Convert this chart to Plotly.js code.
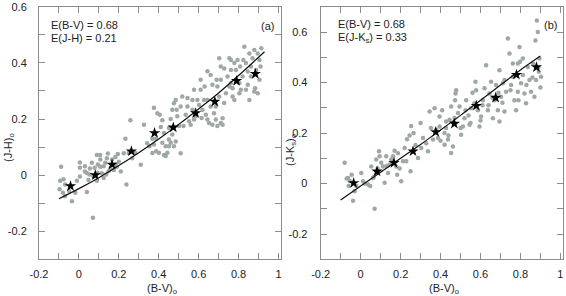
<!DOCTYPE html>
<html>
<head>
<meta charset="utf-8">
<script src="https://cdn.plot.ly/plotly-3.0.1.min.js"></script>
<style>html,body{margin:0;padding:0;background:#fff;}#chart{width:566px;height:296px;}</style>
</head>
<body>
<div id="chart"></div>
<script>
// ---- Panel (a): (B-V)o vs (J-H)o ----
const bvA = [-0.089,-0.094,-0.097,-0.08,-0.07,-0.035,-0.05,-0.018,0.005,0.005,0.03,0.04,0.055,0.048,0.073,0.09,0.095,0.09,0.107,0.107,0.115,0.124,0.14,0.145,0.157,0.175,0.183,0.195,0.2,0.19,0.21,0.07,
 0.03,0.04,0.053,0.065,0.079,0.094,0.107,0.124,0.132,0.149,0.166,0.183,0.137,-0.01,-0.069,-0.077,0.005,
 0.225,0.233,0.258,0.25,0.238,0.267,0.283,0.31,0.326,0.342,0.354,0.368,0.368,0.385,0.376,0.393,0.387,0.405,0.418,0.41,0.426,0.435,0.418,0.443,0.426,0.451,0.46,0.468,0.46,0.468,0.476,0.485,0.493,0.502,0.476,0.51,0.485,
 0.518,0.51,0.535,0.552,0.56,0.544,0.569,0.577,0.594,0.585,0.602,0.61,0.619,0.636,0.644,0.644,0.66,0.652,0.669,0.677,0.686,0.694,0.703,0.711,0.711,0.72,0.728,0.737,0.745,0.754,0.762,0.754,0.77,0.779,0.779,0.787,0.795,0.804,0.812,0.82,0.829,0.837,0.846,0.854,0.862,0.879,0.888,0.896,0.905,0.91,0.914,0.879,0.854,0.837,
 0.61,0.63,0.669,0.69,0.762,0.787,0.762,0.808,0.824,0.862,0.87,0.846,0.804,0.77,0.728,0.711,0.703,0.883,0.905,0.896,
 0.376,0.401,0.435,0.451,0.476,0.49,0.451,0.544,0.524,0.569,0.627,0.66,0.615,0.644,0.577,0.686,0.694,0.72];
const jhA = [0.03,-0.02,-0.05,-0.063,-0.075,-0.093,-0.056,-0.063,0.045,-0.005,0.013,-0.06,0.024,-0.017,-0.005,-0.02,0.038,0.072,0.072,0.03,0.007,-0.01,0.06,0.077,0.024,0.018,0.065,0.075,0.048,0.03,0.013,-0.152,
 0.032,0.008,0.002,0.044,0.026,0.008,0.056,0.032,0.044,0.014,0.056,0.038,0.002,-0.02,-0.033,-0.015,0.026,
 0.078,0.13,0.196,0.079,-0.033,0.06,0.079,0.037,0.18,0.114,0.103,0.079,0.13,0.13,0.24,0.221,0.085,0.215,0.196,0.172,0.15,0.103,0.115,0.08,0.072,0.103,0.115,0.145,0.2,0.233,0.256,0.268,0.21,0.175,0.103,0.078,0.12,
 0.28,0.245,0.215,0.192,0.18,0.245,0.233,0.304,0.268,0.21,0.25,0.304,0.233,0.215,0.268,0.37,0.357,0.186,0.18,0.221,0.245,0.316,0.28,0.34,0.186,0.203,0.257,0.292,0.352,0.417,0.41,0.316,0.28,0.268,0.4,0.375,0.41,0.328,0.304,0.352,0.458,0.4,0.322,0.434,0.387,0.446,0.375,0.292,0.34,0.387,0.452,0.298,0.268,0.304,
 0.34,0.316,0.322,0.34,0.375,0.34,0.328,0.387,0.41,0.352,0.417,0.369,0.292,0.31,0.38,0.387,0.417,0.31,0.41,0.434,
 0.109,0.08,0.068,0.127,0.168,0.233,0.168,0.275,0.175,0.268,0.268,0.245,0.204,0.198,0.198,0.198,0.175,0.18];
const starBvA = [-0.042,0.082,0.166,0.263,0.379,0.473,0.585,0.681,0.790,0.884];
const starJhA = [-0.039,0.0,0.038,0.085,0.150,0.170,0.221,0.262,0.336,0.361];
const curveBvA = [-0.1,0.0,0.1,0.2,0.3,0.4,0.5,0.6,0.7,0.8,0.93];
const curveJhA = [-0.084,-0.048,-0.009,0.034,0.080,0.129,0.181,0.236,0.293,0.355,0.44];

// ---- Panel (b): (B-V)o vs (J-Ks)o ----
const bvB = [-0.08,-0.063,-0.055,-0.06,-0.038,-0.022,-0.03,0.003,0.012,0.037,0.048,0.053,0.062,0.07,0.078,0.092,0.095,0.103,0.112,0.12,0.128,0.137,0.145,0.153,0.162,0.178,0.183,0.187,0.203,0.212,0.228,0.232,0.22,0.25,0.253,0.275,0.287,0.303,0.312,0.328,0.337,
 0.37,0.378,0.362,0.387,0.395,0.408,0.42,0.42,0.428,0.437,0.445,0.453,0.462,0.475,0.478,0.487,0.495,0.503,0.512,0.52,0.525,0.528,0.545,0.553,0.57,0.575,0.578,0.587,0.595,0.603,0.612,0.62,0.628,0.637,0.645,0.653,0.662,0.67,0.678,0.687,0.695,0.695,0.703,0.712,0.72,0.728,0.737,0.745,0.753,0.762,0.77,0.778,0.787,0.795,0.798,0.803,0.812,0.82,0.828,0.837,0.845,0.853,0.862,0.87,0.875,0.882,0.887,0.892,0.895,0.903,0.878,0.787,0.762,0.812,
 0.428,0.345,0.395,0.453,0.473,-0.07,-0.045,0.02,0.065,0.085,0.13,0.17,0.195,0.245,0.265,0.3,0.352,0.4,0.44,0.47,0.5,0.54,0.56,0.6,0.64,0.66,0.69,0.72,0.75,0.79,0.83,0.86,0.89,0.9,0.71,0.61,0.55];
const jkB = [0.082,0.022,0.01,-0.01,-0.068,-0.01,-0.03,0.042,0.009,-0.004,-0.01,0.068,0.022,-0.1,0.095,0.128,0.108,0.082,0.068,0.003,0.108,0.042,0.075,0.095,0.108,0.068,0.035,0.12,0.009,0.088,0.088,0.175,0.141,0.049,0.228,0.153,0.101,0.141,0.18,0.16,0.128,
 0.298,0.213,0.174,0.18,0.226,0.29,0.2,0.154,0.22,0.174,0.253,0.121,0.147,0.357,0.37,0.279,0.305,0.193,0.226,0.259,0.29,0.33,0.233,0.298,0.318,0.403,0.37,0.29,0.226,0.266,0.33,0.377,0.469,0.29,0.357,0.403,0.259,0.33,0.39,0.29,0.449,0.246,0.344,0.397,0.285,0.364,0.574,0.515,0.39,0.423,0.33,0.29,0.364,0.541,0.482,0.397,0.43,0.357,0.318,0.462,0.41,0.364,0.475,0.344,0.567,0.646,0.6,0.443,0.495,0.423,0.41,0.475,0.475,0.495,
 0.246,0.285,0.266,0.305,0.33,0.02,0.035,0.0,0.025,0.06,0.07,0.13,0.06,0.19,0.2,0.24,0.22,0.17,0.19,0.26,0.22,0.27,0.36,0.25,0.31,0.34,0.36,0.41,0.37,0.33,0.39,0.42,0.46,0.38,0.32,0.31,0.24];
const starBvB = [-0.035,0.082,0.167,0.262,0.376,0.469,0.579,0.676,0.780,0.880];
const starJkB = [0.002,0.048,0.082,0.128,0.204,0.237,0.308,0.340,0.431,0.461];
const curveBvB = [-0.1,0.0,0.1,0.2,0.3,0.4,0.5,0.6,0.7,0.8,0.9];
const curveJkB = [-0.065,-0.01,0.045,0.100,0.155,0.212,0.270,0.330,0.390,0.450,0.505];

// ---- Tick labels ----
const xTickVals = [-0.2,0,0.2,0.4,0.6,0.8,1.0];
const xTickText = ['-0.2','0','0.2','0.4','0.6','0.8','1'];
const xMinorVals = [-0.1,0.1,0.3,0.5,0.7,0.9];
const yTickValsA = [-0.2,0,0.2,0.4,0.6];
const yTickTextA = ['-0.2','0','0.2','0.4','0.6'];
const yMinorValsA = [-0.3,-0.1,0.1,0.3,0.5];
const yTickValsB = [-0.2,0,0.2,0.4,0.6];
const yTickTextB = ['-0.2','0','0.2','0.4','0.6'];
const yMinorValsB = [-0.3,-0.1,0.1,0.3,0.5,0.7];

const dotColor = '#9ea8a5';
const FONT = 'Liberation Sans, Arial, sans-serif';

function dots(x, y, xa, ya) {
  return {x: x, y: y, xaxis: xa, yaxis: ya, type: 'scatter', mode: 'markers',
    marker: {color: dotColor, size: 4.5}, hoverinfo: 'skip', showlegend: false};
}
function curve(x, y, xa, ya) {
  return {x: x, y: y, xaxis: xa, yaxis: ya, type: 'scatter', mode: 'lines',
    line: {color: '#111', width: 1.2, shape: 'spline'}, showlegend: false};
}
function stars(x, y, xa, ya) {
  return {x: x, y: y, xaxis: xa, yaxis: ya, type: 'scatter', mode: 'markers',
    marker: {color: '#000', size: 8.5, symbol: 'star'}, showlegend: false};
}

const data = [
  dots(bvA, jhA, 'x', 'y'), curve(curveBvA, curveJhA, 'x', 'y'), stars(starBvA, starJhA, 'x', 'y'),
  dots(bvB, jkB, 'x2', 'y2'), curve(curveBvB, curveJkB, 'x2', 'y2'), stars(starBvB, starJkB, 'x2', 'y2')
];

function axis(extra, minorVals, standoff) {
  return Object.assign({
    showgrid: false, zeroline: false, showline: true, linecolor: '#8c8c8c', linewidth: 1,
    mirror: 'ticks', ticks: 'inside', ticklen: 6, tickcolor: '#8c8c8c', tickwidth: 1,
    tickfont: {family: FONT, size: 11, color: '#222'}, tickmode: 'array',
    ticklabelstandoff: standoff,
    minor: {tickmode: 'array', tickvals: minorVals, ticks: 'inside', ticklen: 6, tickcolor: '#8c8c8c', tickwidth: 1, showgrid: false}
  }, extra);
}

const layout = {
  width: 566, height: 296,
  margin: {l: 0, r: 0, t: 0, b: 0},
  paper_bgcolor: '#fff', plot_bgcolor: '#fff',
  font: {family: FONT, size: 11, color: '#222'},
  xaxis: axis({domain: [0.0689, 0.4973], range: [-0.2, 1.015], tickvals: xTickVals, ticktext: xTickText, anchor: 'y'}, xMinorVals, 5),
  yaxis: axis({domain: [0.124, 0.977], range: [-0.3, 0.6], tickvals: yTickValsA, ticktext: yTickTextA, anchor: 'x'}, yMinorValsA, 9),
  xaxis2: axis({domain: [0.5666, 0.9947], range: [-0.2, 1.013], tickvals: xTickVals, ticktext: xTickText, anchor: 'y2'}, xMinorVals, 5),
  yaxis2: axis({domain: [0.124, 0.977], range: [-0.3, 0.7], tickvals: yTickValsB, ticktext: yTickTextB, anchor: 'x2'}, yMinorValsB, 10),
  annotations: [
    {text: 'E(B-V) = 0.68', xref: 'paper', yref: 'paper', x: 49/566, y: 1-25/296, xanchor: 'left', yanchor: 'middle', showarrow: false},
    {text: 'E(J-H) = 0.21', xref: 'paper', yref: 'paper', x: 49/566, y: 1-37.5/296, xanchor: 'left', yanchor: 'middle', showarrow: false},
    {text: '(a)', xref: 'paper', yref: 'paper', x: 267/566, y: 1-26/296, xanchor: 'center', yanchor: 'middle', showarrow: false},
    {text: 'E(B-V) = 0.68', xref: 'paper', yref: 'paper', x: 336/566, y: 1-24/296, xanchor: 'left', yanchor: 'middle', showarrow: false},
    {text: 'E(J-K<sub>s</sub>) = 0.33', xref: 'paper', yref: 'paper', x: 336/566, y: 1-38/296, xanchor: 'left', yanchor: 'middle', showarrow: false},
    {text: '(b)', xref: 'paper', yref: 'paper', x: 550/566, y: 1-25/296, xanchor: 'center', yanchor: 'middle', showarrow: false},
    {text: '(B-V)<sub>o</sub>', xref: 'paper', yref: 'paper', x: 162/566, y: 1-289/296, xanchor: 'center', yanchor: 'middle', showarrow: false},
    {text: '(B-V)<sub>o</sub>', xref: 'paper', yref: 'paper', x: 444/566, y: 1-289/296, xanchor: 'center', yanchor: 'middle', showarrow: false},
    {text: '(J-H)<sub>o</sub>', xref: 'paper', yref: 'paper', x: 9/566, y: 1-148/296, xanchor: 'center', yanchor: 'middle', textangle: -90, showarrow: false},
    {text: '(J-K<sub>s</sub>)<sub>o</sub>', xref: 'paper', yref: 'paper', x: 291/566, y: 1-150/296, xanchor: 'center', yanchor: 'middle', textangle: -90, showarrow: false}
  ]
};

Plotly.newPlot('chart', data, layout, {staticPlot: true, displayModeBar: false});
</script>
</body>
</html>
